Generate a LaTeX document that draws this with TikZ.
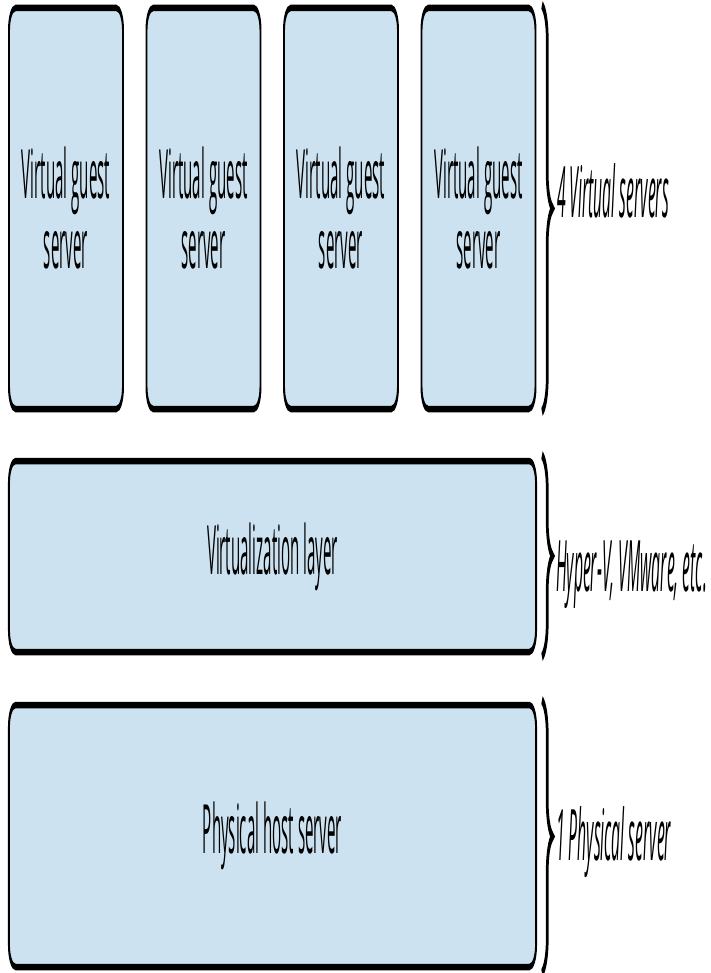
\documentclass[tikz,border=0pt]{standalone}
\usepackage{fontspec}
\setmainfont[FakeStretch=0.74]{Open Sans}
\usetikzlibrary{decorations.pathreplacing}
\definecolor{boxblue}{RGB}{204,226,240}

\begin{document}
\begin{tikzpicture}
    \useasboundingbox (0,0) rectangle (711pt,-973pt);
    % the whole picture is squeezed sideways
    \begin{scope}[transform canvas={xscale=0.3}, x=3.3333pt, y=-1pt,
        srv/.style={draw, line width=6.5pt, fill=boxblue, rounded corners=22pt,
            align=center, inner sep=0pt, font=\fontsize{68}{70}\selectfont},
        guest/.style={srv, minimum width=380pt, minimum height=401pt},
        layer/.style={srv, minimum width=1757pt},
        brc/.style={decorate, decoration={brace, amplitude=35pt}, line width=9pt},
        lbl/.style={anchor=base west, inner sep=0pt, font=\fontsize{71}{73}\selectfont\itshape}]
        \node[guest] (guest1) at (66, 208.5) {Virtual guest\\server};
        \node[guest] (guest2) at (203.5, 208.5) {Virtual guest\\server};
        \node[guest] (guest3) at (341, 208.5) {Virtual guest\\server};
        \node[guest] (guest4) at (478.5, 208.5) {Virtual guest\\server};
        \node[layer, minimum height=191pt] (hyper) at (272.5, 556.5) {Virtualization layer};
        \node[layer, minimum height=262pt] (host) at (272.5, 836) {Physical host server};

        \draw[brc] (542, 5) -- (542, 412);
        \draw[brc] (542, 455) -- (542, 657);
        \draw[brc] (542, 700) -- (542, 973);
        \node[lbl] (virtlbl) at (557, 218) {4 Virtual servers};
        \node[lbl] (hyperlbl) at (556, 591) {Hyper-V, VMware, etc.};
        \node[lbl] (hostlbl) at (556, 860) {1 Physical server};
    \end{scope}
\end{tikzpicture}
\end{document}
